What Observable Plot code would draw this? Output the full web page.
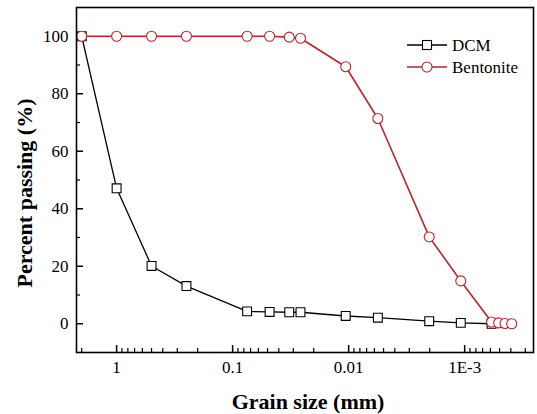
<!DOCTYPE html>
<html>
<head>
<meta charset="utf-8">
<script src="https://cdn.jsdelivr.net/npm/d3@7"></script>
<script src="https://cdn.jsdelivr.net/npm/@observablehq/plot@0.6"></script>
<style>
  body { margin: 0; background: #fff; }
  #chart svg { display: block; }
</style>
</head>
<body>
<div id="chart"></div>
<script>
// Grain size distribution: sieve + hydrometer readings (mm, % passing)
const dcmSize = [2, 1, 0.5, 0.25, 0.075, 0.048, 0.0325, 0.026, 0.0106, 0.0056, 0.00202, 0.00108, 0.000586];
const dcmPassing = [100, 47.1, 20.1, 13.1, 4.3, 4.1, 4.0, 4.0, 2.7, 2.1, 0.9, 0.3, 0];

const bentoniteSize = [2, 1, 0.5, 0.25, 0.075, 0.048, 0.0325, 0.026, 0.0106, 0.0056, 0.00202, 0.00108, 0.000586, 0.000509, 0.000449, 0.000393];
const bentonitePassing = [100, 100, 100, 100, 100, 100, 99.7, 99.3, 89.4, 71.4, 30.2, 14.9, 0.6, 0.3, 0.1, 0];

const seriesNames = ["DCM", "Bentonite"];

// Axis ticks
const xMajor = [1, 0.1, 0.01, 0.001];
const xTickLabels = ["1", "0.1", "0.01", "1E-3"];
const yMajor = [0, 20, 40, 60, 80, 100];
const yMinor = [10, 30, 50, 70, 90];

const xDomain = [2.217, 0.000255];
const yDomain = [-10, 110];

// minor log ticks: 2..9 times each decade, kept inside the domain
const xMinor = [];
for (let e = 0; e >= -4; e--) {
  for (let m = 2; m <= 9; m++) {
    const v = m * Math.pow(10, e);
    if (v < xDomain[0] && v > xDomain[1]) xMinor.push(v);
  }
}

const red = "#b8262c";
const font = "'Liberation Serif', 'Times New Roman', serif";

const W = 537, H = 414;
const mL = 76, mR = 4, mT = 7, mB = 62;
const plotW = W - mL - mR, plotH = H - mT - mB;

const dcm = dcmSize.map((s, i) => ({size: s, passing: dcmPassing[i]}));
const bentonite = bentoniteSize.map((s, i) => ({size: s, passing: bentonitePassing[i]}));
const labelOf = new Map(xMajor.map((v, i) => [v, xTickLabels[i]]));

const chart = Plot.plot({
  width: W,
  height: H,
  marginLeft: mL,
  marginRight: mR,
  marginTop: mT,
  marginBottom: mB,
  style: {fontFamily: font, color: "#000", background: "#fff"},
  x: {type: "log", domain: xDomain},
  y: {domain: yDomain},
  marks: [
    Plot.axisX({ticks: xMajor, tickFormat: d => labelOf.get(d), tickSize: 0, tickPadding: 8, fontSize: 17, label: null}),
    Plot.axisY({ticks: yMajor, tickSize: 0, tickPadding: 8, fontSize: 17, label: null}),
    // inward tick marks
    Plot.tickX(xMajor, {x: d => d, insetTop: plotH - 7, stroke: "#000", strokeWidth: 1.5}),
    Plot.tickX(xMinor, {x: d => d, insetTop: plotH - 4, stroke: "#000", strokeWidth: 1.2}),
    Plot.tickY(yMajor, {y: d => d, insetRight: plotW - 7, stroke: "#000", strokeWidth: 1.5}),
    Plot.tickY(yMinor, {y: d => d, insetRight: plotW - 4, stroke: "#000", strokeWidth: 1.2}),
    // DCM
    Plot.line(dcm, {x: "size", y: "passing", stroke: "#000", strokeWidth: 1.3}),
    Plot.dot(dcm, {x: "size", y: "passing", symbol: "square", r: 5, fill: "#fff", stroke: "#000", strokeWidth: 1.1}),
    // Bentonite
    Plot.line(bentonite, {x: "size", y: "passing", stroke: red, strokeWidth: 1.6}),
    Plot.dot(bentonite, {x: "size", y: "passing", r: 5, fill: "#fff", stroke: red, strokeWidth: 1.1}),
    Plot.frame({stroke: "#000", strokeWidth: 1.6}),
    // axis titles
    Plot.text(["Grain size (mm)"], {frameAnchor: "bottom", textAnchor: "middle", lineAnchor: "middle", dx: 3, dy: 49, fontSize: 22, fontWeight: "bold", fill: "#000"}),
    Plot.text(["Percent passing (%)"], {frameAnchor: "left", textAnchor: "middle", lineAnchor: "middle", rotate: -90, dx: -52, dy: 13, fontSize: 22, fontWeight: "bold", fill: "#000"})
  ]
});

// legend, top right inside the frame
const svg = d3.select(chart);
const legend = svg.append("g")
  .attr("transform", `translate(${W - mR - 126},45)`)
  .attr("font-size", 17)
  .attr("text-anchor", "start");
const items = [
  {name: seriesNames[0], color: "#000", shape: "square", width: 1.3},
  {name: seriesNames[1], color: red, shape: "circle", width: 1.6}
];
items.forEach((it, i) => {
  const g = legend.append("g").attr("transform", `translate(0,${i * 22})`);
  g.append("line").attr("x1", 0).attr("x2", 40).attr("y1", 0).attr("y2", 0)
    .attr("stroke", it.color).attr("stroke-width", it.width);
  if (it.shape === "square") {
    g.append("rect").attr("x", 15.5).attr("y", -4.5).attr("width", 9).attr("height", 9)
      .attr("fill", "#fff").attr("stroke", it.color).attr("stroke-width", 1.1);
  } else {
    g.append("circle").attr("cx", 20).attr("cy", 0).attr("r", 5)
      .attr("fill", "#fff").attr("stroke", it.color).attr("stroke-width", 1.1);
  }
  g.append("text").attr("x", 45).attr("y", 0).attr("dy", "0.35em")
    .attr("text-anchor", "start").attr("fill", "#000").text(it.name);
});

document.getElementById("chart").appendChild(chart);
</script>
</body>
</html>
